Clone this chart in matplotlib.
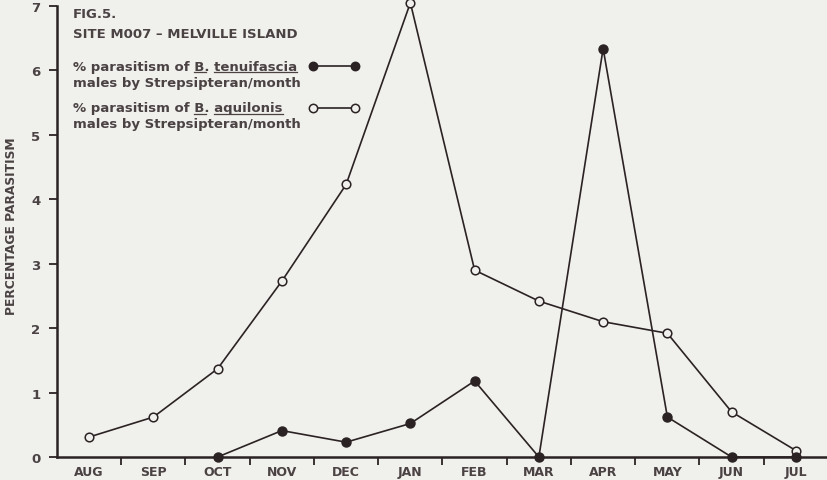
import numpy as np
import matplotlib
matplotlib.use("Agg")
import matplotlib.pyplot as plt

# Monthly % parasitism, Site M007 (Aug -> Jul)
months = ["AUG", "SEP", "OCT", "NOV", "DEC", "JAN",
          "FEB", "MAR", "APR", "MAY", "JUN", "JUL"]
aquilonis = [0.31, 0.62, 1.37, 2.73, 4.23, 7.05,
             2.90, 2.42, 2.10, 1.92, 0.70, 0.10]
# B. tenuifascia only recorded from October
tenuifascia_months = ["OCT", "NOV", "DEC", "JAN", "FEB", "MAR",
                      "APR", "MAY", "JUN", "JUL"]
tenuifascia = [0.0, 0.41, 0.23, 0.52, 1.18, 0.0,
               6.34, 0.62, 0.0, 0.0]
yticks = [0, 1, 2, 3, 4, 5, 6, 7]

bg = "#f0f0ec"
ink = "#2b2224"
txt = "#4a4243"
plt.rcParams["font.family"] = ["DejaVu Sans"]
plt.rcParams["font.weight"] = "bold"

fig = plt.figure(figsize=(8.28, 4.81), dpi=100, facecolor=bg)
ax = fig.add_axes([57 / 828, 1 - 458 / 481, 771 / 828, 451 / 481])
ax.set_facecolor(bg)

x_all = np.arange(len(months))
x_ten = [months.index(m) for m in tenuifascia_months]

ax.plot(x_all, aquilonis, color=ink, lw=1.2, marker="o", ms=6.2,
        mfc=bg, mec=ink, mew=1.1, clip_on=False, zorder=3)
ax.plot(x_ten, tenuifascia, color=ink, lw=1.2, marker="o", ms=6.5,
        mfc=ink, mec=ink, clip_on=False, zorder=4)

ax.set_xlim(-0.5, len(months) - 0.5)
ax.set_ylim(0, 7)
for s in ["top", "right"]:
    ax.spines[s].set_visible(False)
for s in ["left", "bottom"]:
    ax.spines[s].set_color(ink)
    ax.spines[s].set_linewidth(1.8)

ax.set_yticks(yticks)
ax.set_yticklabels([str(v) for v in yticks])
ax.tick_params(axis="y", direction="out", length=6, width=1.3, color=ink,
               labelsize=9.5, labelcolor=txt, pad=6)

# month names centred, tick marks on the month boundaries
ax.set_xticks(x_all)
ax.set_xticklabels(months)
ax.set_xticks(np.arange(0.5, len(months)), minor=True)
ax.tick_params(axis="x", which="major", length=0, labelsize=9,
               labelcolor=txt, pad=6)
ax.tick_params(axis="x", which="minor", direction="out", length=6,
               width=1.3, color=ink)

fig.text(12 / 828, 1 - 226 / 481, "PERCENTAGE PARASITISM", rotation=90,
         ha="center", va="center", fontsize=8.8, color=txt)

# heading and key
tx = 73 / 828
fs = 9.5
fig.text(tx, 1 - 14 / 481, "FIG.5.", fontsize=fs, color=txt, va="center")
fig.text(tx, 1 - 34 / 481, "SITE M007 \u2013 MELVILLE ISLAND", fontsize=fs,
         color=txt, va="center")

key = [
    ("% parasitism of ", "B.", " ", "tenuifascia", 67, ink),
    ("% parasitism of ", "B.", " ", "aquilonis", 109, bg),
]
fig.canvas.draw()
renderer = fig.canvas.get_renderer()
for pre, genus, gap, species, ypix, face in key:
    y = 1 - ypix / 481
    fig.text(tx, y, pre + genus + gap + species, fontsize=fs, color=txt,
             va="center")
    fig.text(tx, y - 16 / 481, "males by Strepsipteran/month", fontsize=fs,
             color=txt, va="center")

    def width(s):
        t = fig.text(tx, y, s, fontsize=fs)
        w = t.get_window_extent(renderer).width
        t.remove()
        return w

    x0 = 73 + width(pre)
    x1 = 73 + width(pre + genus)
    x2 = 73 + width(pre + genus + gap)
    x3 = 73 + width(pre + genus + gap + species)
    uy = 1 - (ypix + 6) / 481
    for a, b in [(x0, x1 - 3), (x2, x3)]:
        fig.add_artist(plt.Line2D([a / 828, b / 828], [uy, uy],
                                  transform=fig.transFigure, color=txt, lw=0.9))
    fig.add_artist(plt.Line2D([313 / 828, 355 / 828], [y, y],
                              transform=fig.transFigure, color=ink, lw=1.2,
                              marker="o", ms=6, mfc=face, mec=ink, mew=1.1))

fig.savefig("out.png", dpi=100, facecolor=bg)
